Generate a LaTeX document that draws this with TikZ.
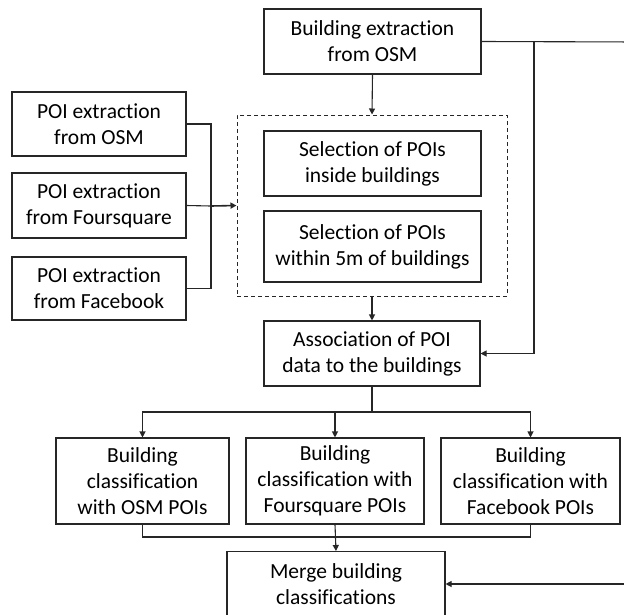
\documentclass[tikz,border=0pt]{standalone}
\usepackage{fontspec}
\setmainfont{Carlito}[RawFeature=-liga]
\usetikzlibrary{arrows.meta}
\tikzset{
  x=1pt,y=-1pt,
  txt/.style={font=\fontsize{21.5}{26}\selectfont,align=center,inner sep=0pt},
  boxn/.style={txt,draw=black!85,line width=1.1pt},
  conn/.style={draw=black!85,line width=1.1pt},
  arr/.style={conn,-{Triangle[length=6pt,width=6pt]}},
  dashbox/.style={draw=black!85,line width=1pt,dash pattern=on 4pt off 3pt}
}
\begin{document}
\begin{tikzpicture}
\useasboundingbox (0,0) rectangle (624,614);
% boxes
\node[boxn,minimum width=217pt,minimum height=65pt] (bex) at (372.5,41.5) {Building extraction\\from OSM};
\node[boxn,minimum width=174pt,minimum height=64pt] (posm) at (99,124) {POI extraction\\from OSM};
\node[boxn,minimum width=174pt,minimum height=65pt] (pfs) at (99,205.5) {POI extraction\\from Foursquare};
\node[boxn,minimum width=174pt,minimum height=63pt] (pfb) at (99,288.5) {POI extraction\\from Facebook};
\node[dashbox,minimum width=270pt,minimum height=181pt,inner sep=0pt] (dash) at (372,205.5) {};
\node[boxn,minimum width=217pt,minimum height=65pt] (sel1) at (372.5,163.5) {Selection of POIs\\inside buildings};
\node[boxn,minimum width=217pt,minimum height=71pt] (sel2) at (372.5,246.5) {Selection of POIs\\within 5m of buildings};
\node[boxn,minimum width=216pt,minimum height=65pt] (assoc) at (372,353.5) {Association of POI\\data to the buildings};
\node[boxn,minimum width=173pt,minimum height=86pt] (c1) at (142.5,481) {Building\\classification\\with OSM POIs};
\node[boxn,minimum width=178pt,minimum height=86pt] (c2) at (335,481) {Building\\classification with\\Foursquare POIs};
\node[boxn,minimum width=179pt,minimum height=86pt] (c3) at (530.5,481) {Building\\classification with\\Facebook POIs};
\node[boxn,minimum width=218pt,minimum height=66pt,anchor=north] (merge) at (336,551) {};
\node[txt] (mergetxt) at (336,584) {Merge building\\classifications};
% coordinates
\coordinate (joinp) at (211,206);
\coordinate (rtop) at (640,42);
\coordinate (rbr) at (534,42);
\coordinate (rin) at (640,584);
\coordinate (split) at (372,412);
\coordinate (gather) at (335,537);
% connectors
\draw[arr] (bex.south) -- (dash.north);
\draw[conn] (posm.east) -| (joinp);
\draw[conn] (pfb.east) -| (joinp);
\draw[conn] (pfs.east) -- (joinp);
\draw[arr,line width=1.6pt] (joinp) -- (dash.west);
\draw[arr] (dash.south) -- (assoc.north);
\draw[conn] (bex.east) -- (rtop);
\draw[arr] (rbr) |- (assoc.east);
\draw[conn] (assoc.south) -- (split);
\draw[arr] (split) -| (c1.north);
\draw[arr] (split) -| (c2.north);
\draw[arr] (split) -| (c3.north);
\draw[conn] (c1.south) |- (gather);
\draw[conn] (c3.south) |- (gather);
\draw[arr] (c2.south) -- (merge.north);
\draw[arr] (rin) -- (merge.east |- rin);
\end{tikzpicture}
\end{document}
